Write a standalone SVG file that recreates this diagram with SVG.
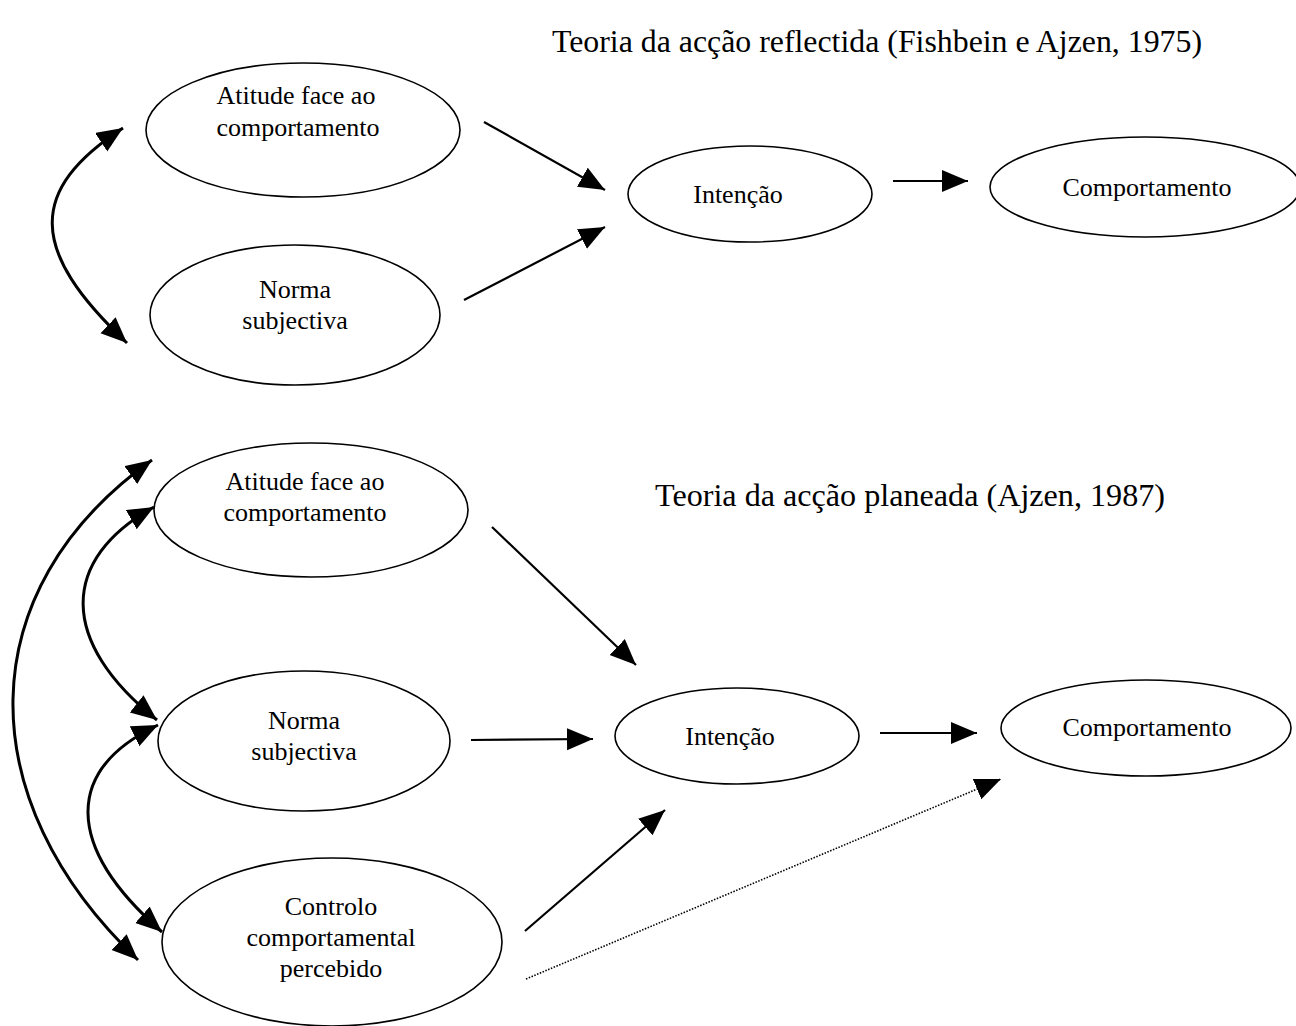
<svg xmlns="http://www.w3.org/2000/svg" width="1296" height="1026" viewBox="0 0 1296 1026">
<style>
.node ellipse{fill:#fff;stroke:#000;stroke-width:1.6}
text{font-family:"Liberation Serif","Times New Roman",serif;fill:#000}
.lbl{font-size:26px;text-anchor:middle}
.ttl{font-size:31px}
.ln{fill:none;stroke:#000;stroke-width:2.2}
.cv{fill:none;stroke:#000;stroke-width:3}
.dot{fill:none;stroke:#000;stroke-width:1.6;stroke-dasharray:1.5 1.5}
</style>
<defs>
<marker id="ah" markerUnits="userSpaceOnUse" markerWidth="28" markerHeight="24" refX="26" refY="11" orient="auto-start-reverse" viewBox="0 0 28 24">
<path d="M0,0 L26,11 L0,22 z" fill="#000"/>
</marker>
</defs>
<rect width="1296" height="1026" fill="#fff"/>
<text class="ttl" x="552" y="52" textLength="650" lengthAdjust="spacingAndGlyphs">Teoria da acção reflectida (Fishbein e Ajzen, 1975)</text>
<text class="ttl" x="655" y="506" textLength="510" lengthAdjust="spacingAndGlyphs">Teoria da acção planeada (Ajzen, 1987)</text>

<g id="connectors">
<path class="cv" d="M123,128 C28,190 28,250 127,343" marker-start="url(#ah)" marker-end="url(#ah)"/>
<line class="ln" x1="484" y1="122" x2="605" y2="190" marker-end="url(#ah)"/>
<line class="ln" x1="464" y1="300" x2="605" y2="227" marker-end="url(#ah)"/>
<line class="ln" x1="893" y1="181" x2="968" y2="181" marker-end="url(#ah)"/>

<path class="cv" d="M152,460 C-31,590 -31,800 138,960" marker-start="url(#ah)" marker-end="url(#ah)"/>
<path class="cv" d="M154,507 C59,560 59,642 157,720" marker-start="url(#ah)" marker-end="url(#ah)"/>
<path class="cv" d="M158,725 C64,770 64,846 162,932" marker-start="url(#ah)" marker-end="url(#ah)"/>
<line class="ln" x1="492" y1="527" x2="636" y2="665" marker-end="url(#ah)"/>
<line class="ln" x1="471" y1="740" x2="593" y2="739" marker-end="url(#ah)"/>
<line class="ln" x1="880" y1="733" x2="977" y2="733" marker-end="url(#ah)"/>
<line class="ln" x1="525" y1="931" x2="665" y2="810" marker-end="url(#ah)"/>
<line class="dot" x1="526" y1="979" x2="1001" y2="779" marker-end="url(#ah)"/>
</g>

<g id="atitude1" class="node"><ellipse cx="303" cy="130" rx="157" ry="67"/><text class="lbl" x="296" y="104">Atitude face ao</text><text class="lbl" x="298" y="136">comportamento</text></g>
<g id="norma1" class="node"><ellipse cx="295" cy="315" rx="145" ry="70"/><text class="lbl" x="295" y="298">Norma</text><text class="lbl" x="295" y="329">subjectiva</text></g>
<g id="intencao1" class="node"><ellipse cx="750" cy="194" rx="122" ry="48"/><text class="lbl" x="738" y="203">Intenção</text></g>
<g id="comportamento1" class="node"><ellipse cx="1145" cy="187" rx="155" ry="50"/><text class="lbl" x="1147" y="196">Comportamento</text></g>

<g id="atitude2" class="node"><ellipse cx="311" cy="510" rx="157" ry="67"/><text class="lbl" x="305" y="490">Atitude face ao</text><text class="lbl" x="305" y="521">comportamento</text></g>
<g id="norma2" class="node"><ellipse cx="304" cy="741" rx="146" ry="70"/><text class="lbl" x="304" y="729">Norma</text><text class="lbl" x="304" y="760">subjectiva</text></g>
<g id="controlo2" class="node"><ellipse cx="332" cy="942" rx="170" ry="84"/><text class="lbl" x="331" y="915">Controlo</text><text class="lbl" x="331" y="946">comportamental</text><text class="lbl" x="331" y="977">percebido</text></g>
<g id="intencao2" class="node"><ellipse cx="737" cy="736" rx="122" ry="48"/><text class="lbl" x="730" y="745">Intenção</text></g>
<g id="comportamento2" class="node"><ellipse cx="1146" cy="728" rx="145" ry="48"/><text class="lbl" x="1147" y="736">Comportamento</text></g>
</svg>
